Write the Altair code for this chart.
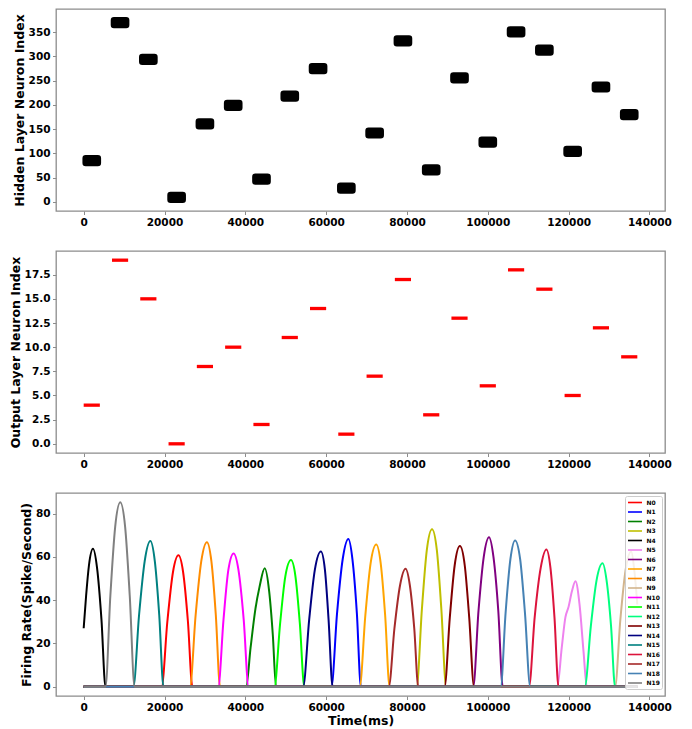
import altair as alt
import pandas as pd

# ---- pattern presentation (ms) ----
pattern_start = [0, 7000, 14000, 21000, 28000, 35000, 42000, 49000, 56000, 63000,
                 70000, 77000, 84000, 91000, 98000, 105000, 112000, 119000, 126000, 133000]
pattern_end = [4000, 11000, 18000, 25000, 32000, 39000, 46000, 53000, 60000, 67000,
               74000, 81000, 88000, 95000, 102000, 109000, 116000, 123000, 130000, 137000]

# ---- output layer neuron that fires for each pattern ----
output_index = [4, 19, 15, 0, 8, 10, 2, 11, 14, 1, 7, 17, 3, 13, 6, 18, 16, 5, 12, 9]

# ---- hidden layer neuron range that fires for each pattern ----
hidden_low = [76, 361, 285, 0, 152, 190, 38, 209, 266, 19, 133, 323, 57, 247, 114, 342, 304, 95, 228, 171]
hidden_high = [94, 379, 303, 18, 170, 208, 56, 227, 284, 37, 151, 341, 75, 265, 132, 360, 322, 113, 246, 189]

# ---- output neurons, colours ----
names = ["N%d" % i for i in range(20)]
colors = ["#ff0000", "#0000ff", "#008000", "#bfbf00", "#000000", "#ee82ee", "#800080",
          "#ffa500", "#ff8c00", "#d2b48c", "#ff00ff", "#00ff00", "#00ff7f", "#800000",
          "#000080", "#008080", "#dc143c", "#a52a2a", "#4682b4", "#808080"]

# ---- firing rate curves (time ms, rate spikes/s) ----
rate_t = {
    "N0": [0, 19300, 20700, 22100, 23450, 24600, 25800, 26900, 137000],
    "N1": [0, 61300, 62700, 64100, 65500, 66500, 67600, 68600, 137000],
    "N2": [0, 40200, 41300, 42500, 43500, 44800, 45900, 46800, 47600, 137000],
    "N3": [0, 82400, 83700, 84900, 86200, 87400, 88500, 89700, 137000],
    "N4": [0, 600, 1300, 2300, 3300, 4400, 5400, 137000],
    "N5": [0, 117200, 118300, 119200, 120000, 120800, 121700, 122700, 123700, 124500, 137000],
    "N6": [0, 96400, 97700, 99000, 100300, 101400, 102600, 103700, 137000],
    "N7": [0, 68300, 69700, 71000, 72400, 73500, 74600, 75700, 137000],
    "N8": [0, 26300, 27700, 29100, 30500, 31600, 32700, 33750, 137000],
    "N9": [0, 131500, 132800, 134100, 135500, 136300, 137000],
    "N10": [0, 33300, 34600, 35800, 37100, 38300, 39600, 40800, 137000],
    "N11": [0, 47200, 48600, 49900, 51300, 52400, 53500, 54600, 137000],
    "N12": [0, 124000, 125500, 126900, 128400, 129400, 130500, 131500, 137000],
    "N13": [0, 89300, 90600, 91800, 93100, 94300, 95400, 96600, 137000],
    "N14": [0, 54300, 55800, 57200, 58700, 59700, 60600, 61600, 137000],
    "N15": [0, 12300, 13700, 15100, 16500, 17600, 18700, 19750, 137000],
    "N16": [0, 110200, 111600, 113100, 114500, 115500, 116500, 117500, 137000],
    "N17": [0, 75500, 76900, 78300, 79650, 80700, 81800, 82800, 137000],
    "N18": [0, 103200, 104400, 105600, 106750, 108000, 109200, 110500, 137000],
    "N19": [0, 5400, 6600, 7800, 9050, 10250, 11400, 12600, 137000],
}
rate_v = {
    "N0": [0, 0, 30, 53, 60.7, 53, 30, 0, 0],
    "N1": [0, 0, 34, 59, 68.3, 59, 34, 0, 0],
    "N2": [0, 0, 18, 36, 46, 54.7, 44, 24, 0, 0],
    "N3": [0, 0, 36, 63, 72.8, 63, 36, 0, 0],
    "N4": [27, 42, 56, 63.7, 55, 31, 0, 0],
    "N5": [0, 0, 18, 32, 37, 44, 48.7, 38, 16, 0, 0],
    "N6": [0, 0, 35, 60, 69.1, 60, 35, 0, 0],
    "N7": [0, 0, 33, 57, 65.7, 57, 33, 0, 0],
    "N8": [0, 0, 33, 58, 66.8, 58, 33, 0, 0],
    "N9": [0, 0, 31, 54, 62.5, 53, 38],
    "N10": [0, 0, 31, 54, 61.6, 54, 31, 0, 0],
    "N11": [0, 0, 29, 51, 58.5, 51, 29, 0, 0],
    "N12": [0, 0, 28, 49, 57, 49, 28, 0, 0],
    "N13": [0, 0, 32, 56, 65, 56, 32, 0, 0],
    "N14": [0, 0, 31, 54, 62.5, 54, 31, 0, 0],
    "N15": [0, 0, 33, 58, 67.3, 58, 33, 0, 0],
    "N16": [0, 0, 32, 55, 63.4, 55, 32, 0, 0],
    "N17": [0, 0, 27, 47, 54.5, 47, 27, 0, 0],
    "N18": [0, 0, 34, 59, 67.6, 59, 34, 0, 0],
    "N19": [0, 0, 42, 74, 85.2, 74, 42, 0, 0],
}

x_ticks = [0, 20000, 40000, 60000, 80000, 100000, 120000, 140000]

blocks = pd.DataFrame({"start": pattern_start, "end": pattern_end,
                       "lo": hidden_low, "hi": hidden_high, "out": output_index})
rows = []
for n in names:
    for t, v in zip(rate_t[n], rate_v[n]):
        rows.append({"name": n, "t": t, "v": v})
rates = pd.DataFrame(rows)

x_scale = alt.Scale(domain=[-6850, 143850], nice=False, zero=False)
x_axis = alt.Axis(values=x_ticks, format="d", labelFlush=False, labelOverlap=False)

hidden = alt.Chart(blocks).mark_rect(
    color="black", stroke="black", strokeWidth=2.5, cornerRadius=2
).encode(
    x=alt.X("start:Q", scale=x_scale, axis=x_axis, title=None),
    x2="end:Q",
    y=alt.Y("lo:Q", scale=alt.Scale(domain=[-19, 398], nice=False, zero=False),
            axis=alt.Axis(values=[0, 50, 100, 150, 200, 250, 300, 350]),
            title="Hidden Layer Neuron Index"),
    y2="hi:Q",
).properties(width=609, height=202)

output = alt.Chart(blocks).mark_rule(
    color="#ff0000", strokeWidth=3.3, strokeCap="butt"
).encode(
    x=alt.X("start:Q", scale=x_scale, axis=x_axis, title=None),
    x2="end:Q",
    y=alt.Y("out:Q", scale=alt.Scale(domain=[-0.95, 19.95], nice=False, zero=False),
            axis=alt.Axis(values=[0, 2.5, 5, 7.5, 10, 12.5, 15, 17.5], format=".1f"),
            title="Output Layer Neuron Index"),
).properties(width=609, height=202)

rate = alt.Chart(rates).mark_line(strokeWidth=2, interpolate="monotone").encode(
    x=alt.X("t:Q", scale=x_scale, axis=x_axis, title="Time(ms)"),
    y=alt.Y("v:Q", scale=alt.Scale(domain=[-4.3, 89.5], nice=False, zero=False),
            axis=alt.Axis(values=[0, 20, 40, 60, 80]),
            title="Firing Rate(Spike/Second)"),
    color=alt.Color("name:N", scale=alt.Scale(domain=names, range=colors),
                    legend=alt.Legend(title=None, orient="top-right", offset=3, padding=2,
                                      fillColor="rgba(255,255,255,0.8)", strokeColor="#cccccc",
                                      cornerRadius=2, symbolType="M-1,0H3", symbolSize=49,
                                      symbolStrokeWidth=1.6, labelFont="DejaVu Sans",
                                      labelFontSize=6, labelFontWeight="bold",
                                      labelColor="black", labelOffset=10.5, rowPadding=1.5)),
).properties(width=609, height=203)

chart = alt.vconcat(hidden, output, rate, spacing=21).resolve_legend(
    color="independent"
).properties(
    padding={"left": 0, "top": 0, "right": 5, "bottom": 0}
).configure_view(
    stroke="#8c8c8c", strokeWidth=1.3
).configure_axis(
    labelFont="DejaVu Sans", labelFontSize=10.5, labelFontWeight="bold", labelColor="black",
    titleFont="DejaVu Sans", titleFontSize=12.5, titleFontWeight="bold", titleColor="black",
    grid=False, domain=False, tickColor="#8c8c8c", tickSize=3.5, tickWidth=1,
    labelPadding=2.5, titlePadding=2
).configure_axisX(titlePadding=2)

chart.save("out.html", embed_options={"renderer": "svg", "actions": False})
